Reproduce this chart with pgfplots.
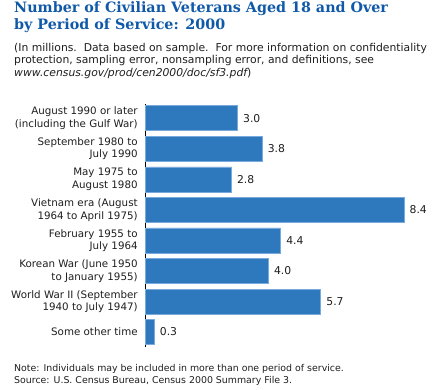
\documentclass[border=0pt]{standalone}
\usepackage{pgfplots}
\pgfplotsset{compat=1.18}
\usepackage{fontspec}
\setmainfont{DejaVu Sans}
\newfontfamily\titlefont{DejaVu Serif}
\definecolor{titleblue}{RGB}{16,89,168}
\definecolor{barblue}{RGB}{46,120,190}
\definecolor{baredge}{RGB}{120,170,222}
\definecolor{textgray}{RGB}{30,30,30}
\begin{document}
\begin{tikzpicture}[x=1pt,y=1pt]
\useasboundingbox (0,0) rectangle (442,-390);
% title
\node[anchor=base west, inner sep=0pt, text=titleblue] at (14,-12.7) {\titlefont\bfseries\fontsize{14.3}{16}\selectfont Number of Civilian Veterans Aged 18 and Over};
\node[anchor=base west, inner sep=0pt, text=titleblue] at (14,-29.3) {\titlefont\bfseries\fontsize{14.3}{16}\selectfont by Period of Service: 2000};
% subtitle
\begin{scope}[every node/.style={anchor=base west, inner sep=0pt, text=textgray, font=\fontsize{10.8}{12}\selectfont}]
\node at (14,-51.5) {(In millions.\ \ Data based on sample.\ \ For more information on confidentiality};
\node at (14,-63.8) {protection, sampling error, nonsampling error, and definitions, see};
\node at (14,-76.1) {\itshape www.census.gov/prod/cen2000/doc/sf3.pdf\upshape)};
\end{scope}
\begin{scope}[every node/.style={anchor=base west, inner sep=0pt, text=textgray, font=\fontsize{9.4}{12}\selectfont}]
\node at (14,-371) {Note: Individuals may be included in more than one period of service.};
\node at (14,-383.3) {Source: U.S. Census Bureau, Census 2000 Summary File 3.};
\end{scope}
\begin{axis}[
  at={(145pt,-347pt)}, anchor=south west,
  scale only axis, width=292.9pt, height=243pt,
  xbar, bar width=25pt,
  xmin=0, xmax=9.5,
  ymin=-0.47, ymax=7.49, y dir=reverse,
  axis x line=none,
  axis y line=left,
  y axis line style={-, line width=1pt, black},
  ytick={0,...,7},
  ytick style={draw=none},
  yticklabels={{August 1990 or later\\(including the Gulf War)},
               {September 1980 to\\July 1990},
               {May 1975 to\\August 1980},
               {Vietnam era (August\\1964 to April 1975)},
               {February 1955 to\\July 1964},
               {Korean War (June 1950\\to January 1955)},
               {World War II (September\\1940 to July 1947)},
               {Some other time}},
  yticklabel style={align=right, inner sep=0pt, xshift=-5pt, text=textgray, font=\fontsize{10.3}{12.5}\selectfont},
  /pgf/number format/assume math mode=true,
  nodes near coords,
  nodes near coords style={anchor=west, xshift=2pt, text=textgray, font=\fontsize{10.8}{12}\selectfont,
     /pgf/number format/.cd, fixed, fixed zerofill, precision=1},
  clip=false,
]
\addplot[fill=barblue, draw=baredge, line width=0.7pt] coordinates {
 (3.0,0) (3.8,1) (2.8,2) (8.4,3) (4.4,4) (4.0,5) (5.7,6) (0.3,7)};
\end{axis}
\end{tikzpicture}
\end{document}
